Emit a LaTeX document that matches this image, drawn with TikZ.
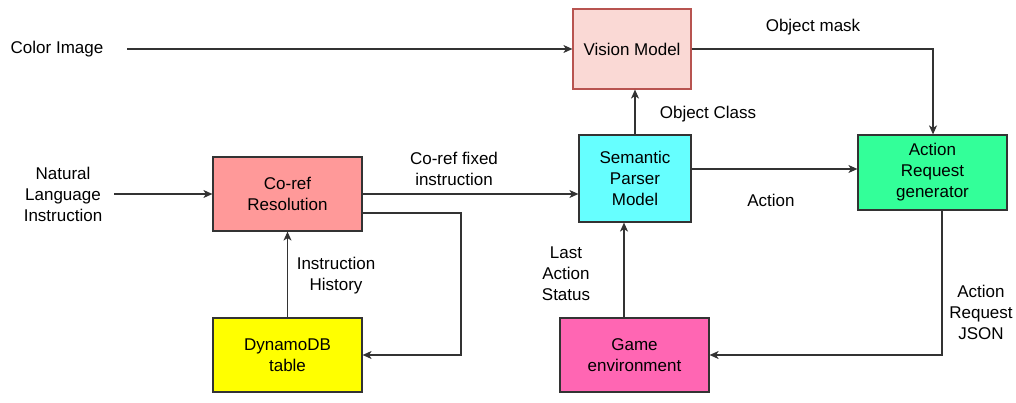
\documentclass[tikz,border=0pt]{standalone}
\usepackage{fontspec}
\setmainfont{Liberation Sans}
\usetikzlibrary{arrows.meta}
\definecolor{visfill}{HTML}{FAD9D5}
\definecolor{visdraw}{HTML}{B85450}
\definecolor{corefill}{HTML}{FF9999}
\definecolor{semfill}{HTML}{66FFFF}
\definecolor{argfill}{HTML}{33FF99}
\definecolor{dynfill}{HTML}{FFFF00}
\definecolor{gamefill}{HTML}{FF66B3}
\definecolor{linec}{HTML}{333333}
\begin{document}
\begin{tikzpicture}[x=1pt,y=-1pt,
  every node/.style={font=\fontsize{17}{21}\selectfont, align=center, inner sep=0pt},
  blockbox/.style={draw=linec, line width=1.2pt},
  conn/.style={draw=linec, line width=1.2pt, -{Stealth[length=9pt,width=8pt,inset=2.5pt]}},
  lbl/.style={text=black}]
\useasboundingbox (0,0) rectangle (1016,403);
% boxes
\node[blockbox, fill=visfill, draw=visdraw, minimum width=118pt, minimum height=80pt] (vis) at (632,49) {Vision Model};
\node[blockbox, fill=semfill, minimum width=112pt, minimum height=87pt] (sem) at (635,178.5) {Semantic\\Parser\\Model};
\node[blockbox, fill=argfill, minimum width=149pt, minimum height=75pt] (arg) at (932.5,172.5) {Action\\Request\\generator};
\node[blockbox, fill=corefill, minimum width=149pt, minimum height=74pt] (coref) at (287.5,194) {Co-ref\\Resolution};
\node[blockbox, fill=dynfill, minimum width=149pt, minimum height=74pt] (dyn) at (287.5,355) {DynamoDB\\table};
\node[blockbox, fill=gamefill, minimum width=149pt, minimum height=74pt] (game) at (634.5,355) {Game\\environment};
% free text
\node (colorimg) at (57,49) {Color Image};
\node (nli) at (63,194) {Natural\\Language\\Instruction};
\coordinate (cistart) at (127,49);
\coordinate (nlistart) at (114,194);
\coordinate (corner1) at (461,213);
\coordinate (corner2) at (461,355);
\coordinate (corner3) at (933,49);
\coordinate (corner4) at (942,355);
% connectors
\draw[conn] (cistart) -- (vis.west);
\draw[conn] (nlistart) -- (coref.west);
\draw[conn] (coref.east) -- (coref.east -| sem.west);
\draw[conn] (coref.east |- corner1) -- (corner1) -- (corner2) -- (dyn.east);
\draw[conn] (dyn.north) -- (coref.south);
\draw[conn] (sem.north) -- (sem.north |- vis.south);
\draw[conn] (vis.east) -- (corner3) -- (corner3 |- arg.north);
\draw[conn] (sem.east |- 0,169) -- (arg.west |- 0,169);
\draw[conn] (corner4 |- arg.south) -- (corner4) -- (game.east);
\draw[conn] (game.north -| 624,0) -- (sem.south -| 624,0);
% labels
\node[lbl] (l1) at (454,169) {Co-ref fixed\\instruction};
\node[lbl] (l2) at (336,275.5) {Instruction\\History};
\node[lbl] (l3) at (708,114) {Object Class};
\node[lbl] (l4) at (813,27) {Object mask};
\node[lbl] (l5) at (771,200) {Action};
\node[lbl] (l6) at (981,312) {Action\\Request\\JSON};
\node[lbl] (l7) at (566,274) {Last\\Action\\Status};
\end{tikzpicture}
\end{document}
